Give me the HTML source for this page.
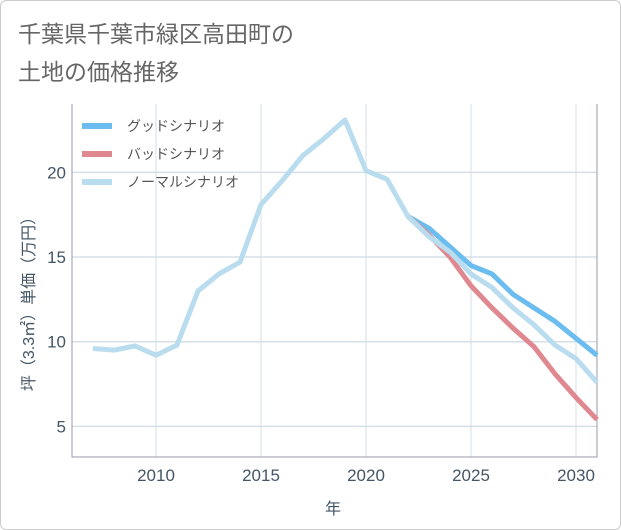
<!DOCTYPE html>
<html><head><meta charset="utf-8"><style>
body{margin:0;background:#fff}
#wrap{position:relative;width:619px;height:528px;border:1px solid #ccc;border-radius:6px;overflow:hidden;font-family:"Liberation Sans","Noto Sans CJK JP",sans-serif}
</style></head><body>
<div id="wrap">
<svg id="svg" width="621" height="530" style="position:absolute;left:-1px;top:-1px">
<text x="18" y="42" font-size="23" fill="#666" font-family="Liberation Sans,Noto Sans CJK JP,sans-serif">千葉県千葉市緑区高田町の</text>
<text x="18" y="80" font-size="23" fill="#666" font-family="Liberation Sans,Noto Sans CJK JP,sans-serif">土地の価格推移</text>
<g id="grid"></g><g id="lines"></g>
<g id="legend"></g>
<text x="333" y="514" font-size="16" fill="#456" text-anchor="middle" font-family="Liberation Sans,Noto Sans CJK JP,sans-serif">年</text>
<text transform="translate(34,300) rotate(-90)" font-size="16" fill="#456" text-anchor="middle" font-family="Liberation Sans,Noto Sans CJK JP,sans-serif">坪（3.3㎡）単価（万円）</text>
</svg></div>
<script>
const years=[2007,2008,2009,2010,2011,2012,2013,2014,2015,2016,2017,2018,2019,2020,2021,2022,2023,2024,2025,2026,2027,2028,2029,2030,2031];
const normal=[9.6,9.5,9.75,9.2,9.8,13.0,14.0,14.7,18.1,19.5,21.0,22.0,23.1,20.1,19.6,17.4,16.2,15.3,14.0,13.2,12.0,11.0,9.8,9.0,7.6];
const fYears=[2022,2023,2024,2025,2026,2027,2028,2029,2030,2031];
const good=[17.4,16.7,15.6,14.5,14.0,12.8,12.0,11.2,10.2,9.2];
const bad=[17.4,16.3,15.0,13.3,12.0,10.8,9.7,8.1,6.7,5.4];
const xTicks=[2010,2015,2020,2025,2030];
const yTicks=[5,10,15,20];
const L=72,R=597,T=104,B=457;
const xs=y=>L+(y-2006)*(R-L)/25;
const ys=v=>511-v*16.93;
const NS="http://www.w3.org/2000/svg";
function mk(t,a,p){const e=document.createElementNS(NS,t);for(const k in a)e.setAttribute(k,a[k]);p.appendChild(e);return e;}
const g=document.getElementById('grid');
xTicks.forEach(t=>{const l=mk('line',{x1:xs(t),x2:xs(t),y1:T,y2:B,stroke:'#d5dfe8'},g);


const tx=mk('text',{x:xs(t),y:B+24,'font-size':17,fill:'#456','text-anchor':'middle'},g);tx.textContent=t;

});
yTicks.forEach(t=>{const l=mk('line',{x1:L,x2:R,y1:ys(t),y2:ys(t),stroke:'#d5dfe8','stroke-width':1.5},g);


const tx=mk('text',{x:L-6,y:ys(t)+6,'font-size':17,fill:'#456','text-anchor':'end'},g);tx.textContent=t;

});
const ax=mk('path',{d:`M${L},${T}V${B}H${R}V${T}`,fill:'none',stroke:'#99a',"stroke-width":1},g);


const ln=document.getElementById('lines');
function series(xv,yv,c,n){const p=mk('polyline',{points:xv.map((x,i)=>xs(x)+','+ys(yv[i])).join(' '),fill:'none',stroke:c,'stroke-width':5,'stroke-linejoin':'round'},ln);

}
series(fYears,good,'#6bbdf0','good-scenario-line');
series(fYears,bad,'#e08890','bad-scenario-line');
series(years,normal,'#b9ddee','normal-scenario-line');
const lg=document.getElementById('legend');
[['グッドシナリオ','#6bbdf0'],['バッドシナリオ','#e08890'],['ノーマルシナリオ','#b9ddee']].forEach((d,i)=>{
const y=126+i*28;
const r=mk('rect',{x:82,y:y-3,width:30,height:6,fill:d[1]},lg);


const t=mk('text',{x:127,y:y+5,'font-size':14,fill:'#555'},lg);t.textContent=d[0];

});
</script></body></html>
